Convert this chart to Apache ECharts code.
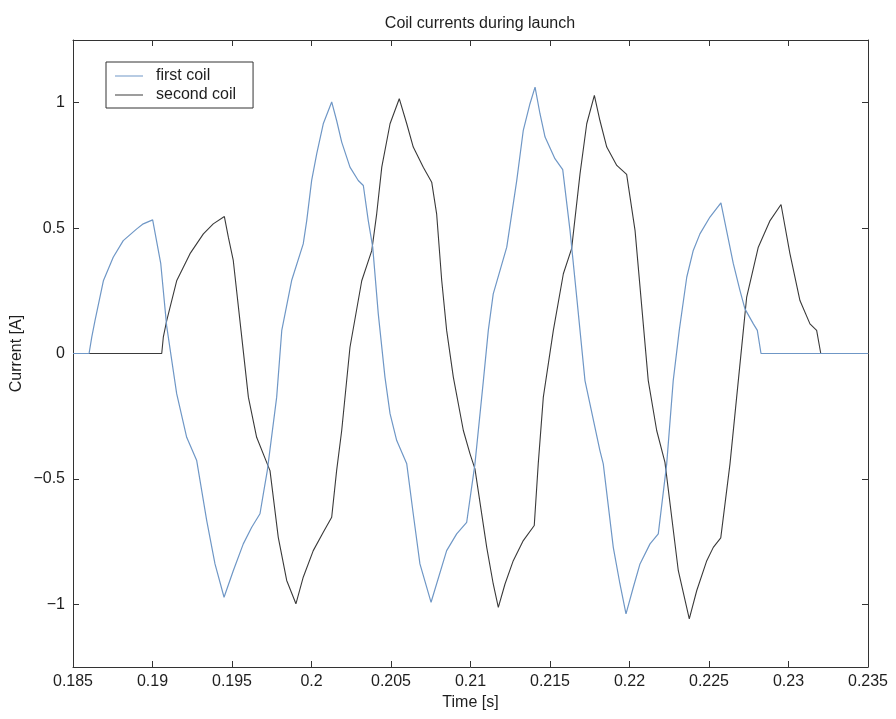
<!DOCTYPE html>
<html>
<head>
<meta charset="utf-8">
<script src="https://cdn.jsdelivr.net/npm/echarts@6/dist/echarts.min.js"></script>
<style>
  html, body { margin: 0; padding: 0; background: #fff; }
  #chart { width: 896px; height: 719px; }
</style>
</head>
<body>
<div id="chart"></div>
<script>
// Coil current samples: time [s] and current [A]
const timeFirst = [
  0.18500, 0.18601, 0.18618, 0.18638, 0.18691, 0.18753, 0.18816, 0.18901,
  0.18942, 0.19001, 0.19052, 0.19089, 0.19152, 0.19215, 0.19278, 0.19341,
  0.19393, 0.19450, 0.19508, 0.19571, 0.19624, 0.19676, 0.19697, 0.19722,
  0.19781, 0.19813, 0.19875, 0.19948, 0.19970, 0.20001, 0.20033, 0.20074,
  0.20127, 0.20158, 0.20190, 0.20242, 0.20294, 0.20326, 0.20357, 0.20385,
  0.20420, 0.20462, 0.20494, 0.20536, 0.20599, 0.20640, 0.20682, 0.20752,
  0.20850, 0.20913, 0.20976, 0.21028, 0.21081, 0.21112, 0.21143, 0.21228,
  0.21291, 0.21332, 0.21374, 0.21406, 0.21437, 0.21469, 0.21531, 0.21580,
  0.21626, 0.21668, 0.21720, 0.21814, 0.21835, 0.21898, 0.21940, 0.21978,
  0.22024, 0.22066, 0.22129, 0.22181, 0.22234, 0.22275, 0.22313, 0.22360,
  0.22401, 0.22443, 0.22506, 0.22575, 0.22653, 0.22695, 0.22726, 0.22779,
  0.22804, 0.22827, 0.23500
];
const currentFirst = [
  0, 0, 0.065, 0.13, 0.29, 0.384, 0.45, 0.497,
  0.517, 0.533, 0.358, 0.11, -0.16, -0.334, -0.427, -0.666,
  -0.839, -0.972, -0.866, -0.759, -0.693, -0.639, -0.56, -0.467,
  -0.174, 0.092, 0.291, 0.437, 0.53, 0.69, 0.797, 0.916,
  1.003, 0.929, 0.843, 0.743, 0.69, 0.67, 0.53, 0.424,
  0.158, -0.094, -0.24, -0.347, -0.44, -0.64, -0.839, -0.992,
  -0.786, -0.719, -0.673, -0.44, -0.108, 0.092, 0.238, 0.424,
  0.69, 0.89, 0.996, 1.062, 0.956, 0.863, 0.777, 0.733,
  0.49, 0.225, -0.108, -0.387, -0.44, -0.773, -0.919, -1.038,
  -0.932, -0.839, -0.759, -0.719, -0.44, -0.108, 0.092, 0.304,
  0.411, 0.477, 0.544, 0.601, 0.358, 0.251, 0.178, 0.118,
  0.092, 0, 0
];
const timeSecond = [
  0.18500, 0.19058, 0.19068, 0.19089, 0.19152, 0.19236, 0.19320, 0.19382,
  0.19452, 0.19477, 0.19508, 0.19557, 0.19603, 0.19655, 0.19718, 0.19739,
  0.19791, 0.19844, 0.19902, 0.19948, 0.20011, 0.20074, 0.20127, 0.20158,
  0.20190, 0.20242, 0.20316, 0.20379, 0.20410, 0.20442, 0.20494, 0.20552,
  0.20599, 0.20640, 0.20703, 0.20756, 0.20787, 0.20819, 0.20850, 0.20892,
  0.20955, 0.20997, 0.21028, 0.21102, 0.21143, 0.21175, 0.21217, 0.21269,
  0.21332, 0.21401, 0.21426, 0.21458, 0.21521, 0.21584, 0.21636, 0.21689,
  0.21731, 0.21779, 0.21814, 0.21857, 0.21920, 0.21982, 0.22035, 0.22118,
  0.22171, 0.22223, 0.22307, 0.22376, 0.22423, 0.22486, 0.22527, 0.22574,
  0.22632, 0.22716, 0.22737, 0.22810, 0.22884, 0.22953, 0.23009, 0.23072,
  0.23135, 0.23177, 0.23203, 0.23500
];
const currentSecond = [
  0, 0, 0.065, 0.13, 0.29, 0.398, 0.477, 0.517,
  0.546, 0.464, 0.371, 0.09, -0.174, -0.334, -0.434, -0.467,
  -0.733, -0.905, -0.998, -0.892, -0.786, -0.713, -0.653, -0.467,
  -0.307, 0.025, 0.29, 0.41, 0.557, 0.743, 0.916, 1.016,
  0.916, 0.823, 0.743, 0.683, 0.557, 0.291, 0.092, -0.094,
  -0.307, -0.4, -0.46, -0.773, -0.919, -1.012, -0.919, -0.826,
  -0.746, -0.686, -0.44, -0.174, 0.092, 0.318, 0.418, 0.717,
  0.916, 1.029, 0.929, 0.823, 0.75, 0.714, 0.49, -0.108,
  -0.307, -0.434, -0.866, -1.058, -0.945, -0.826, -0.773, -0.735,
  -0.44, 0.092, 0.225, 0.424, 0.53, 0.594, 0.398, 0.211,
  0.118, 0.092, 0, 0
];

// Labelled ticks on the current axis
const yTicks = [-1, -0.5, 0, 0.5, 1];

const FONT = '"Liberation Sans", Arial, Helvetica, sans-serif';
const AXIS_COLOR = '#333';
const TEXT_COLOR = '#1e1e1e';

const zip = (xs, ys) => xs.map((x, i) => [x, ys[i]]);
const fmtX = v => String(+(+v).toFixed(3));
const fmtY = v => (v < 0 ? '\u2212' + String(-v) : String(v));

const chart = echarts.init(document.getElementById('chart'), null, { renderer: 'canvas' });

const baseX = {
  type: 'value', min: 0.185, max: 0.235, interval: 0.005,
  axisLine: { show: true, onZero: false, lineStyle: { color: AXIS_COLOR, width: 1 } },
  axisTick: { show: true, inside: true, length: 6, lineStyle: { color: AXIS_COLOR } },
  splitLine: { show: false }
};
const baseY = {
  type: 'value', min: -1.25, max: 1.25,
  axisLine: { show: true, onZero: false, lineStyle: { color: AXIS_COLOR, width: 1 } },
  axisTick: { show: true, inside: true, length: 6, customValues: yTicks, lineStyle: { color: AXIS_COLOR } },
  splitLine: { show: false }
};

chart.setOption({
  backgroundColor: '#fff',
  animation: false,
  title: {
    text: 'Coil currents during launch',
    left: 475, top: 11, textAlign: 'center',
    textStyle: { fontFamily: FONT, fontSize: 16, fontWeight: 'normal', color: TEXT_COLOR }
  },
  grid: { left: 73, right: 28, top: 40, bottom: 52, containLabel: false },
  legend: {
    orient: 'vertical', left: 106, top: 62,
    data: [
      { name: 'first coil', icon: 'rect' },
      { name: 'second coil', icon: 'rect' }
    ],
    itemWidth: 28, itemHeight: 1, itemGap: 3,
    padding: [6, 17, 5, 9],
    borderColor: '#333', borderWidth: 1, backgroundColor: '#fff',
    textStyle: { fontFamily: FONT, fontSize: 16, color: TEXT_COLOR, padding: [0, 0, 0, 8] }
  },
  xAxis: [
    Object.assign({}, baseX, {
      position: 'bottom',
      name: 'Time [s]', nameLocation: 'middle', nameGap: 27,
      nameTextStyle: { fontFamily: FONT, fontSize: 16, color: TEXT_COLOR },
      axisLabel: { show: true, margin: 7, formatter: fmtX, fontFamily: FONT, fontSize: 16, color: TEXT_COLOR, showMinLabel: true, showMaxLabel: true }
    }),
    Object.assign({}, baseX, { position: 'top', axisLabel: { show: false } })
  ],
  yAxis: [
    Object.assign({}, baseY, {
      position: 'left',
      name: 'Current [A]', nameLocation: 'middle', nameGap: 48, nameRotate: 90,
      nameMoveOverlap: false,
      nameTextStyle: { fontFamily: FONT, fontSize: 16, color: TEXT_COLOR },
      axisLabel: { show: true, margin: 8, customValues: yTicks, formatter: fmtY, fontFamily: FONT, fontSize: 16, color: TEXT_COLOR }
    }),
    Object.assign({}, baseY, { position: 'right', axisLabel: { show: false } })
  ],
  series: [
    {
      name: 'first coil', type: 'line', xAxisIndex: 0, yAxisIndex: 0,
      data: zip(timeFirst, currentFirst),
      symbol: 'none', showSymbol: false,
      lineStyle: { color: '#6f97c6', width: 1.2 },
      itemStyle: { color: '#6f97c6' },
      z: 3
    },
    {
      name: 'second coil', type: 'line', xAxisIndex: 0, yAxisIndex: 0,
      data: zip(timeSecond, currentSecond),
      symbol: 'none', showSymbol: false,
      lineStyle: { color: '#3a3a3a', width: 1.1 },
      itemStyle: { color: '#3a3a3a' },
      z: 2
    }
  ]
});
</script>
</body>
</html>
